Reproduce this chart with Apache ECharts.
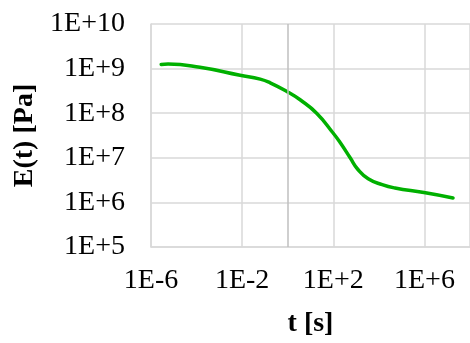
<!DOCTYPE html>
<html>
<head>
<meta charset="utf-8">
<script src="https://cdn.jsdelivr.net/npm/echarts@6/dist/echarts.min.js"></script>
<style>
  html, body { margin: 0; padding: 0; background: #fff; }
  #chart { width: 470px; height: 343px; }
</style>
</head>
<body>
<div id="chart"></div>
<script>
// relaxation modulus E(t)
const tValues = [2.8e-6, 5.6e-6, 1.4e-4, 8.1e-3, 6.2e-2, 0.17, 1.0, 3.5, 18.6, 98, 200, 550, 1230, 3400, 1.4e4, 5.1e4, 9.5e5, 1.8e7]
const eValues = [1.24e9, 1.26e9, 1.07e9, 7.1e8, 5.8e8, 4.8e8, 3.0e8, 2.0e8, 1.0e8, 3.6e7, 2.2e7, 1.0e7, 5.4e6, 3.4e6, 2.5e6, 2.1e6, 1.66e6, 1.26e6]

const xTickLabels = { '-6': '1E-6', '-2': '1E-2', '2': '1E+2', '6': '1E+6' }
const yTickLabels = { '5': '1E+5', '6': '1E+6', '7': '1E+7', '8': '1E+8', '9': '1E+9', '10': '1E+10' }

const font = '"Liberation Serif", "Times New Roman", serif'
const gridColor = '#d9d9d9'

const chart = echarts.init(document.getElementById('chart'))

const option = {
  backgroundColor: '#fff',
  animation: false,
  grid: { left: 151, right: 0, top: 24, bottom: 96 },
  xAxis: {
    type: 'log',
    logBase: 10,
    min: 1e-6,
    max: 1e8,
    interval: 4,
    name: 't [s]',
    nameLocation: 'middle',
    nameGap: 63,
    nameTextStyle: { fontFamily: font, fontSize: 28, fontWeight: 'bold', color: '#000' },
    axisLine: { lineStyle: { color: gridColor, width: 1.5 } },
    axisTick: { show: false },
    axisLabel: {
      fontFamily: font, fontSize: 28, color: '#000', margin: 20,
      showMaxLabel: false,
      formatter: v => xTickLabels[String(Math.round(Math.log10(v)))] || ''
    },
    splitLine: { show: true, lineStyle: { color: gridColor, width: 1.5 } }
  },
  yAxis: {
    type: 'log',
    logBase: 10,
    min: 1e5,
    max: 1e10,
    interval: 1,
    name: 'E(t) [Pa]',
    nameLocation: 'middle',
    nameGap: 112,
    nameTextStyle: { fontFamily: font, fontSize: 28, fontWeight: 'bold', color: '#000' },
    axisLine: { show: true, lineStyle: { color: gridColor, width: 1.5 } },
    axisTick: { show: false },
    axisLabel: {
      fontFamily: font, fontSize: 28, color: '#000', margin: 26,
      formatter: v => yTickLabels[String(Math.round(Math.log10(v)))] || ''
    },
    splitLine: { show: true, lineStyle: { color: gridColor, width: 1.5 } }
  },
  series: [
    {
      type: 'line',
      data: tValues.map((t, i) => [t, eValues[i]]),
      smooth: 0.5,
      showSymbol: false,
      lineStyle: { color: '#00b000', width: 3.5, cap: 'round' },
      markLine: {
        silent: true,
        symbol: 'none',
        label: { show: false },
        lineStyle: { color: '#bfbfbf', width: 1.5, type: 'solid' },
        data: [{ xAxis: 1 }]
      },
      z: 3
    }
  ]
}

chart.setOption(option)
window.addEventListener('resize', () => chart.resize())
</script>
</body>
</html>
